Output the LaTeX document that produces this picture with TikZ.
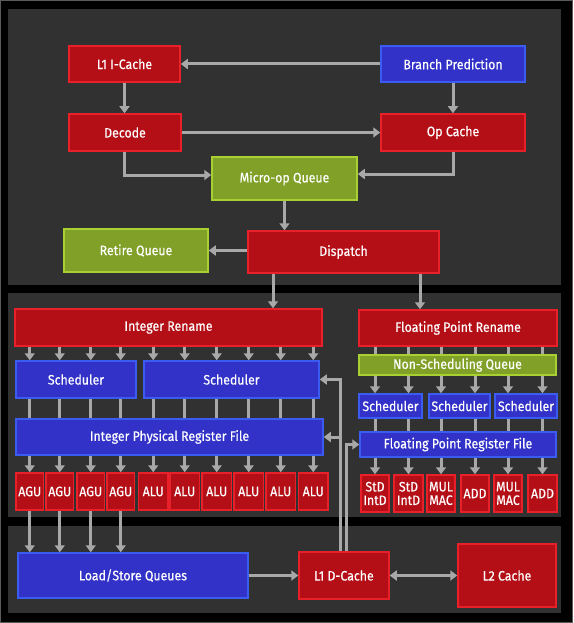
\documentclass[tikz,border=0pt]{standalone}
\usepackage{fontspec}
\setmainfont{Fira Sans}[FakeStretch=0.9,FakeBold=0.4]
\usetikzlibrary{arrows.meta,calc}
\definecolor{panel}{HTML}{313131}
\definecolor{redf}{HTML}{B40F16}
\definecolor{redd}{HTML}{E8202A}
\definecolor{bluef}{HTML}{3232C8}
\definecolor{blued}{HTML}{3A5CF0}
\definecolor{greenf}{HTML}{80A028}
\definecolor{greend}{HTML}{A8D032}
\definecolor{arr}{HTML}{A8A8A8}
\definecolor{edge}{HTML}{5A5A5A}
\tikzset{
  box/.style={line width=1.5pt, inner sep=0pt, text=white, align=center,
    font=\fontsize{13.7}{13.5}\selectfont},
  redbox/.style={box, fill=redf, draw=redd},
  bluebox/.style={box, fill=bluef, draw=blued},
  greenbox/.style={box, fill=greenf, draw=greend},
  flow/.style={draw=arr, line width=3pt, -{Triangle[width=10pt,length=7pt]}},
  biflow/.style={draw=arr, line width=3pt, {Triangle[width=10pt,length=7pt]}-{Triangle[width=10pt,length=7pt]}},
  plain/.style={draw=arr, line width=3pt},
}
\newcommand\bx[7]{\node[#1, minimum width={#5-#3}, minimum height={#6-#4}] (#2) at ({(#3+#5)/2},{(#4+#6)/2}) {#7};}
\begin{document}
\begin{tikzpicture}[x=1pt,y=-1pt]
\useasboundingbox (0,0) rectangle (573,623);
\fill[black] (0,0) rectangle (573,623);
\draw[edge, line width=1pt] (0.5,0.5) rectangle (572.5,622.5);
% panels
\fill[panel] (8,9) rectangle (561,285);
\fill[panel] (8,293) rectangle (561,517);
\fill[panel] (8,526) rectangle (561,613);

% front end
\bx{redbox}{l1i}{69}{46}{180}{82}{L1 I-Cache}
\bx{bluebox}{bp}{381}{46}{525}{82}{Branch Prediction}
\bx{redbox}{dec}{69}{114}{181}{151}{Decode}
\bx{redbox}{opc}{381}{114}{525}{151}{Op Cache}
\bx{greenbox}{muq}{212}{157}{357}{200}{Micro-op Queue}
\bx{greenbox}{ret}{64}{229}{208}{272}{Retire Queue}
\bx{redbox}{disp}{248}{231}{439}{273}{Dispatch}

% integer
\bx{redbox}{irn}{15}{309}{322}{346}{Integer Rename}
\bx{bluebox}{s1}{16}{361}{136}{398}{Scheduler}
\bx{bluebox}{s2}{144}{361}{319}{398}{Scheduler}
\bx{bluebox}{iprf}{16}{419}{323}{455}{Integer Physical Register File}
\bx{redbox}{u1}{16}{473}{43.5}{510}{AGU}
\bx{redbox}{u2}{46}{473}{73.5}{510}{AGU}
\bx{redbox}{u3}{77}{473}{104.5}{510}{AGU}
\bx{redbox}{u4}{107}{473}{134.5}{510}{AGU}
\bx{redbox}{u5}{138.5}{473}{168}{510}{ALU}
\bx{redbox}{u6}{170}{473}{199.5}{510}{ALU}
\bx{redbox}{u7}{202}{473}{231.5}{510}{ALU}
\bx{redbox}{u8}{234}{473}{263.5}{510}{ALU}
\bx{redbox}{u9}{266}{473}{295.5}{510}{ALU}
\bx{redbox}{u10}{298.5}{473}{328}{510}{ALU}

% floating point
\bx{redbox}{fprn}{359}{310}{557}{346}{Floating Point Rename}
\bx{greenbox}{nsq}{359}{355}{556}{375}{Non-Scheduling Queue}
\bx{bluebox}{fs1}{359}{394}{422}{418}{Scheduler}
\bx{bluebox}{fs2}{429}{394}{490}{418}{Scheduler}
\bx{bluebox}{fs3}{495}{394}{557}{418}{Scheduler}
\bx{bluebox}{fprf}{360}{432}{556}{457}{Floating Point Register File}
\bx{redbox}{f1}{361}{475}{389}{512}{StD\\IntD}
\bx{redbox}{f2}{394}{475}{423}{512}{StD\\IntD}
\bx{redbox}{f3}{427}{475}{455}{512}{MUL\\MAC}
\bx{redbox}{f4}{461}{475}{489}{512}{ADD}
\bx{redbox}{f5}{494}{475}{522}{512}{MUL\\MAC}
\bx{redbox}{f6}{528}{475}{557}{512}{ADD}

% memory
\bx{bluebox}{lsq}{18}{553}{248}{598}{Load/Store Queues}
\bx{redbox}{l1d}{299}{552}{389}{599}{L1 D-Cache}
\bx{redbox}{l2}{458}{544}{556}{607}{L2 Cache}

% front-end connectors
\draw[flow] (bp.west) -- (l1i.east);
\draw[flow] (l1i.south) -- (l1i.south|-dec.north);
\draw[flow] (bp.south) -- (bp.south|-opc.north);
\draw[flow] (dec.east) -- (dec.east-|opc.west);
\draw[flow] ([xshift=-0.5pt]dec.south) |- ([yshift=3.5pt]muq.west);
\draw[flow] (opc.south) |- ([yshift=4.5pt]muq.east);
\draw[flow] (muq.south) -- (muq.south|-disp.north);
\draw[flow] (disp.west|-ret.east) -- (ret.east);
\draw[flow] ([xshift=-70.5pt]disp.south) -- ([xshift=-70.5pt]disp.south|-irn.north);
\draw[flow] ([xshift=76.5pt]disp.south) -- ([xshift=76.5pt]disp.south|-fprn.north);

% integer connectors
\foreach \i in {1,...,4} {
  \draw[flow] (u\i|-irn.south) -- (u\i|-s1.north);
  \draw[plain] (u\i|-s1.south) -- (u\i|-iprf.north);
}
\foreach \i in {5,...,10} {
  \draw[flow] (u\i|-irn.south) -- (u\i|-s2.north);
  \draw[plain] (u\i|-s2.south) -- (u\i|-iprf.north);
}
\foreach \i in {1,...,10} \draw[flow] (u\i|-iprf.south) -- (u\i.north);

% fp connectors
\foreach \i/\s in {1/fs1,2/fs1,3/fs2,4/fs2,5/fs3,6/fs3} {
  \draw[plain] (f\i|-fprn.south) -- (f\i|-nsq.north);
  \draw[flow] (f\i|-nsq.south) -- (f\i|-\s.north);
  \draw[plain] (f\i|-\s.south) -- (f\i|-fprf.north);
  \draw[flow] (f\i|-fprf.south) -- (f\i.north);
}

% memory connectors
\foreach \i in {1,...,4} \draw[flow] (u\i.south) -- (u\i|-lsq.north);
\draw[flow] (lsq.east) -- (l1d.west);
\draw[biflow] (l1d.east) -- (l2.west|-l1d.east);
\draw[flow] ([xshift=-4pt]l1d.north) |- (s2.east);
\draw[flow] ([xshift=-4pt]l1d.north|-iprf.east) -- (iprf.east);
\draw[flow] ([xshift=2.5pt]l1d.north) |- (fprf.west);
\end{tikzpicture}
\end{document}
